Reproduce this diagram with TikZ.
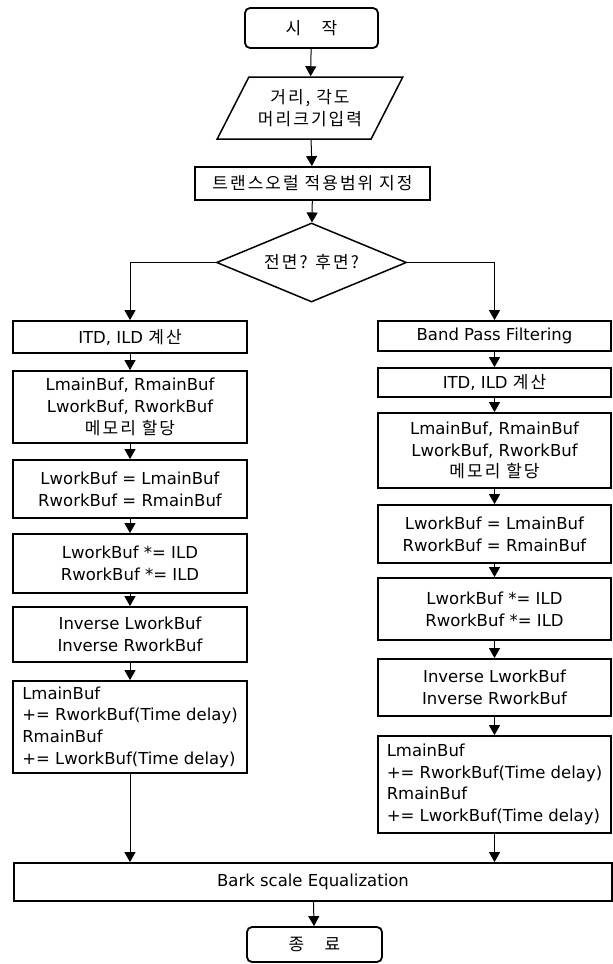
\documentclass[tikz,border=0pt]{standalone}
\usepackage{fontspec}
\setmainfont{DejaVu Sans}
\newfontfamily\hangul{Noto Sans CJK KR}[LetterSpace=12]
\newcommand{\korfont}{\hangul\fontsize{17}{21.7}\selectfont}
\usetikzlibrary{arrows.meta}
\usetikzlibrary{shapes.geometric}

\begin{document}
\begin{tikzpicture}[
    x=1pt, y=-1pt,
    line width=1pt,
    font=\fontsize{16.5}{21.7}\selectfont,
    >={Triangle[length=10pt,width=11pt]},
    box/.style={draw, rectangle, line width=1.8pt, inner sep=0pt, align=center},
    term/.style={box, rounded corners=5pt, font=\korfont},
    io/.style={draw, trapezium, trapezium left angle=54, trapezium right angle=126,
        trapezium stretches=true, line width=1.5pt, inner sep=0pt, align=center, font=\korfont},
    decision/.style={draw, diamond, aspect=2.4, line width=1.5pt, inner sep=0pt, font=\korfont},
    lbox/.style={box, minimum width=234pt},
    rbox/.style={box, minimum width=233pt},
    sumbox/.style={align=left}
]
    \useasboundingbox (0,0) rectangle (613,964);

    % Top part
    \node[term, minimum width=133pt, minimum height=40pt] (start) at (311.5,28) {시\hspace{1.2em}작};
    \node[io, minimum width=186pt, minimum height=62pt] (input) at (310,108) {거리, 각도\\머리크기입력};
    \node[box, minimum width=235pt, minimum height=33pt, font=\korfont] (range) at (312.5,183.5) {트랜스오럴 적용범위 지정};
    \node[decision, minimum width=190pt, minimum height=79pt] (side) at (311.5,262.5) {전면? 후면?};

    % Left branch
    \node[lbox, minimum height=32pt] (litd) at (130,337) {ITD, ILD {\korfont 계산}};
    \node[lbox, minimum height=72pt] (lmem) at (130,407) {LmainBuf, RmainBuf\\LworkBuf, RworkBuf\\{\korfont 메모리 할당}};
    \node[lbox, minimum height=58pt] (lcopy) at (130,489) {LworkBuf = LmainBuf\\RworkBuf = RmainBuf};
    \node[lbox, minimum height=59pt] (lgain) at (130,563.5) {LworkBuf *= ILD\\RworkBuf *= ILD};
    \node[lbox, minimum height=55pt] (linv) at (130,634.5) {Inverse LworkBuf\\Inverse RworkBuf};
    \node[lbox, sumbox, minimum height=92pt] (lsum) at (130,727) {LmainBuf\\+= RworkBuf(Time delay)\\RmainBuf\\+= LworkBuf(Time delay)};

    % Right branch
    \node[rbox, minimum height=30pt] (rbpf) at (494.5,336) {Band Pass Filtering};
    \node[rbox, minimum height=29pt] (ritd) at (494.5,382.5) {ITD, ILD {\korfont 계산}};
    \node[rbox, minimum height=75pt] (rmem) at (494.5,450.5) {LmainBuf, RmainBuf\\LworkBuf, RworkBuf\\{\korfont 메모리 할당}};
    \node[rbox, minimum height=58pt] (rcopy) at (494.5,534) {LworkBuf = LmainBuf\\RworkBuf = RmainBuf};
    \node[rbox, minimum height=62pt] (rgain) at (494.5,609) {LworkBuf *= ILD\\RworkBuf *= ILD};
    \node[rbox, minimum height=57pt] (rinv) at (494.5,687.5) {Inverse LworkBuf\\Inverse RworkBuf};
    \node[rbox, sumbox, minimum height=97pt] (rsum) at (494.5,784.5) {LmainBuf\\+= RworkBuf(Time delay)\\RmainBuf\\+= LworkBuf(Time delay)};

    % Bottom part
    \node[box, minimum width=598pt, minimum height=38pt] (bark) at (313,882) {Bark scale Equalization};
    \node[term, minimum width=135pt, minimum height=35pt] (stop) at (314.5,944.5) {종\hspace{1.2em}료};

    % Edges
    \draw[->] (start) -- (input);
    \draw[->] (input) -- (range);
    \draw[->] (range) -- (side);
    \draw[->] (side.west) -| (litd.north);
    \draw[->] (side.east) -| (rbpf.north);

    \draw[->] (litd) -- (lmem);
    \draw[->] (lmem) -- (lcopy);
    \draw[->] (lcopy) -- (lgain);
    \draw[->] (lgain) -- (linv);
    \draw[->] (linv) -- (lsum);
    \draw[->] (lsum) -- (lsum |- bark.north);

    \draw[->] (rbpf) -- (ritd);
    \draw[->] (ritd) -- (rmem);
    \draw[->] (rmem) -- (rcopy);
    \draw[->] (rcopy) -- (rgain);
    \draw[->] (rgain) -- (rinv);
    \draw[->] (rinv) -- (rsum);
    \draw[->] (rsum) -- (rsum |- bark.north);

    \draw[->] (bark) -- (stop);
\end{tikzpicture}
\end{document}
